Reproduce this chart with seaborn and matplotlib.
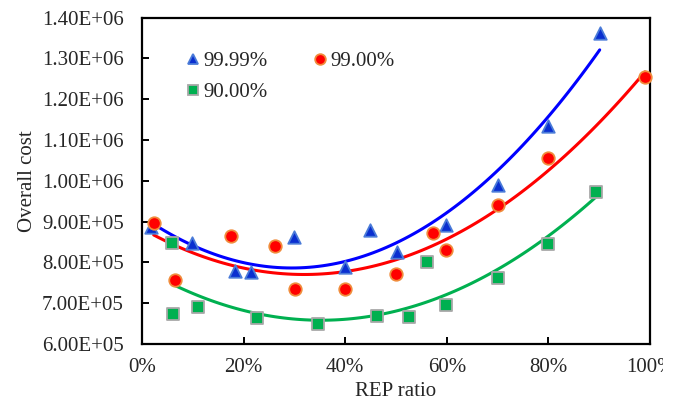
import numpy as np
import pandas as pd
import matplotlib
matplotlib.use("Agg")
import matplotlib.pyplot as plt
from matplotlib.ticker import FuncFormatter
from matplotlib.lines import Line2D
from matplotlib.transforms import Bbox
import seaborn as sns

# ---- data (REP ratio in %, overall cost) ----
x_9999 = [1.7, 9.8, 18.3, 21.4, 30.0, 39.9, 44.8, 50.1, 59.9, 70.0, 79.9, 90.1]
y_9999 = [8.88e5, 8.47e5, 7.79e5, 7.77e5, 8.62e5, 7.88e5, 8.79e5, 8.25e5, 8.92e5, 9.90e5, 1.134e6, 1.362e6]

x_9900 = [2.3, 6.4, 17.5, 26.2, 30.2, 39.9, 50.0, 57.3, 59.9, 70.0, 79.9, 99.0]
y_9900 = [8.97e5, 7.57e5, 8.66e5, 8.40e5, 7.34e5, 7.34e5, 7.72e5, 8.71e5, 8.30e5, 9.42e5, 1.055e6, 1.254e6]

x_9000 = [6.0, 6.2, 11.0, 22.6, 34.6, 46.2, 52.6, 56.2, 59.9, 70.0, 79.9, 89.3]
y_9000 = [8.48e5, 6.74e5, 6.90e5, 6.64e5, 6.49e5, 6.69e5, 6.65e5, 8.02e5, 6.96e5, 7.61e5, 8.45e5, 9.72e5]

series_labels = ["99.99%", "99.00%", "90.00%"]
x_ticks = [0, 20, 40, 60, 80, 100]
y_ticks = [6.0e5, 7.0e5, 8.0e5, 9.0e5, 1.0e6, 1.1e6, 1.2e6, 1.3e6, 1.4e6]

sns.set_style("ticks")
plt.rcParams["font.family"] = ["Liberation Serif", "DejaVu Serif"]
plt.rcParams["font.size"] = 15

fig = plt.figure(figsize=(6.81, 4.0), dpi=100)
ax = fig.add_axes([142 / 681, 1 - 344 / 400, (650 - 142) / 681, (344 - 17.7) / 400])

styles = {
    "99.99%": dict(marker="^", face="#0A2FD0", edge="#4A7BD8", line="#0000FF", ms=9),
    "99.00%": dict(marker="o", face="#FF0000", edge="#F08C3C", line="#FF0000", ms=9),
    "90.00%": dict(marker="s", face="#00B050", edge="#A8A8A8", line="#00B050", ms=8),
}
data = {
    "99.99%": (x_9999, y_9999),
    "99.00%": (x_9900, y_9900),
    "90.00%": (x_9000, y_9000),
}

for lab in series_labels:
    xs, ys = data[lab]
    st = styles[lab]
    df = pd.DataFrame({"x": xs, "y": ys})
    sns.regplot(data=df, x="x", y="y", order=2, ci=None, scatter=False, ax=ax,
                truncate=True, line_kws=dict(color=st["line"], lw=2.2, zorder=2))
    sns.scatterplot(data=df, x="x", y="y", ax=ax, marker=st["marker"],
                    s=st["ms"] ** 2, color=st["face"], edgecolor=st["edge"],
                    linewidth=1.3, zorder=3, clip_on=False)

ax.set_xlim(0, 100)
ax.set_ylim(6.0e5, 1.4e6)
ax.set_xticks(x_ticks)
ax.set_yticks(y_ticks)
ax.xaxis.set_major_formatter(FuncFormatter(lambda v, p: f"{v:.0f}%"))
ax.yaxis.set_major_formatter(FuncFormatter(lambda v, p: f"{v:.2E}"))
ax.set_xlabel("REP ratio", fontsize=15, labelpad=4)
ax.set_ylabel("Overall cost", fontsize=15, labelpad=4)
ax.tick_params(direction="in", length=5, width=1.4, labelsize=15, color="black")
ax.tick_params(axis="x", pad=10)
ax.tick_params(axis="y", pad=13)
for s in ax.spines.values():
    s.set_linewidth(1.6)
    s.set_color("black")
    s.set_visible(True)

handles = []
for lab in ["99.99%", "90.00%", "99.00%"]:
    st = styles[lab]
    handles.append(Line2D([], [], ls="none", marker=st["marker"], ms=st["ms"] * 0.85,
                          mfc=st["face"], mec=st["edge"], mew=1.3, label=lab))
ax.legend(handles=handles, ncol=2, loc="upper left", bbox_to_anchor=(0.06, 0.94),
          frameon=False, fontsize=15, handlelength=0.6, handletextpad=0.2,
          columnspacing=2.2, labelspacing=0.55, borderpad=0.2)

# reference image crops the last tick label at the right edge
fig.canvas.draw()
clip = Bbox.from_extents(0, 0, 663, 400)
for t in ax.get_xticklabels():
    t.set_clip_box(clip)
    t.set_clip_on(True)

fig.savefig("out.png", dpi=100)
